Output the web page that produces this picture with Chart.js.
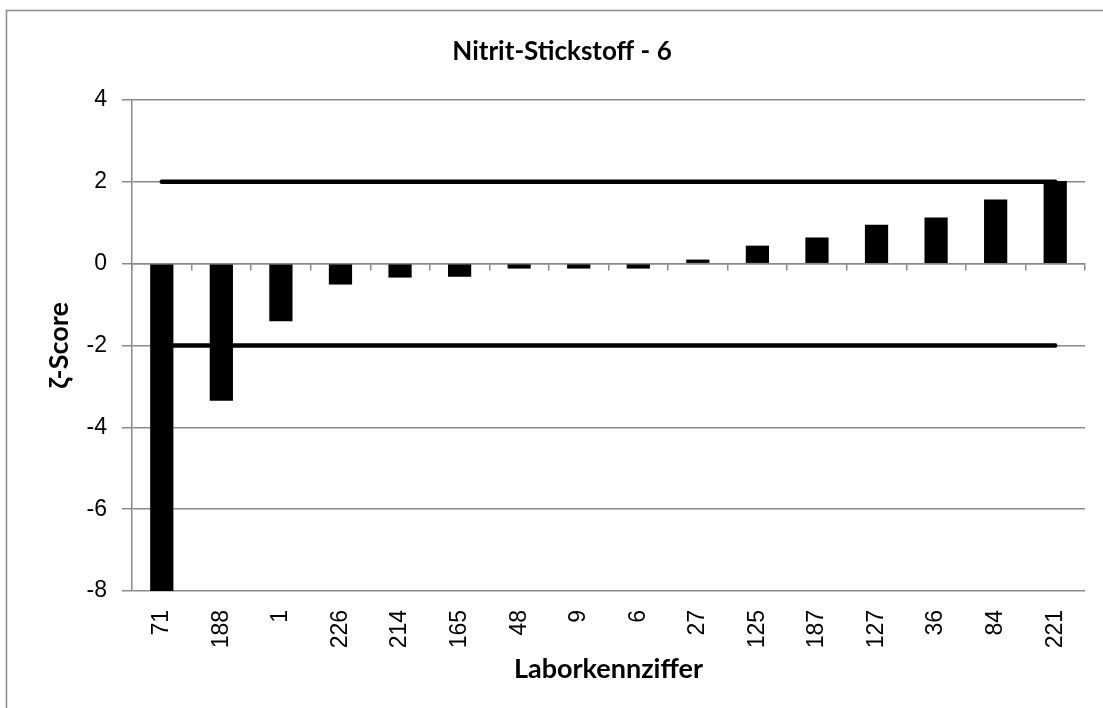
<!DOCTYPE html>
<html>
<head>
<meta charset="utf-8">
<script src="https://cdn.jsdelivr.net/npm/chart.js@4.4.1/dist/chart.umd.min.js"></script>
<style>
  html, body { margin: 0; padding: 0; background: #fff; }
  #wrap { width: 1103px; height: 708px; }
</style>
</head>
<body>
<div id="wrap"><canvas id="zChart"></canvas></div>
<script>
// lab codes, sorted by score
let labCodes = ["71", "188", "1", "226", "214", "165", "48", "9", "6", "27", "125", "187", "127", "36", "84", "221"];
let zetaScores = [-8.0, -3.35, -1.41, -0.51, -0.34, -0.32, -0.12, -0.12, -0.12, 0.10, 0.44, 0.64, 0.95, 1.13, 1.57, 2.02];
let upperLimit = [2, 2, 2, 2, 2, 2, 2, 2, 2, 2, 2, 2, 2, 2, 2, 2];
let lowerLimit = [-2, -2, -2, -2, -2, -2, -2, -2, -2, -2, -2, -2, -2, -2, -2, -2];
let yTicks = [-8, -6, -4, -2, 0, 2, 4];
const chartTitle = "Nitrit-Stickstoff - 6";

const gridGrey = "#8a8a8a";
const tickFont = { family: "'Liberation Sans', Arial, sans-serif", size: 23 };
const titleFont = { family: "Lato, 'Open Sans', sans-serif", size: 27, weight: "bold" };

// grey frame (top and left edges) plus the chart heading
const frame = {
  id: "frame",
  beforeDraw(chart) {
    const c = chart.ctx;
    c.save();
    c.strokeStyle = gridGrey;
    c.lineWidth = 1.5;
    c.beginPath();
    c.moveTo(6.5, 720);
    c.lineTo(6.5, 10.5);
    c.lineTo(1110, 10.5);
    c.stroke();
    c.restore();
  },
  afterDraw(chart) {
    const c = chart.ctx;
    c.save();
    c.fillStyle = "#000";
    c.font = "bold 26px Lato, 'Open Sans', sans-serif";
    c.textAlign = "center";
    c.textBaseline = "middle";
    c.fillText(chartTitle, 562, 52);
    c.restore();
  }
};

let ctx = document.getElementById("zChart");
let zChart = new Chart(ctx, {
  type: "bar",
  data: {
    labels: labCodes,
    datasets: [
      {
        label: "ζ-Score",
        data: zetaScores,
        backgroundColor: "#000",
        xAxisID: "x",
        barPercentage: 0.39,
        categoryPercentage: 1,
        order: 1
      },
      {
        type: "line",
        label: "+2",
        data: upperLimit,
        borderColor: "#000",
        borderWidth: 4.5,
        borderCapStyle: "round",
        pointRadius: 0,
        fill: false,
        xAxisID: "x",
        order: 2
      },
      {
        type: "line",
        label: "-2",
        data: lowerLimit,
        borderColor: "#000",
        borderWidth: 4.5,
        borderCapStyle: "round",
        pointRadius: 0,
        fill: false,
        xAxisID: "x",
        order: 2
      }
    ]
  },
  options: {
    responsive: true,
    maintainAspectRatio: false,
    animation: false,
    layout: { padding: { left: 0, right: 18, top: 100, bottom: 0 } },
    plugins: {
      legend: { display: false },
      tooltip: { enabled: false },
      title: { display: false }
    },
    scales: {
      x: {
        type: "category",
        position: "bottom",
        offset: true,
        grid: { display: false },
        border: { display: false },
        ticks: {
          color: "#000",
          font: tickFont,
          minRotation: 90,
          maxRotation: 90,
          autoSkip: false,
          padding: 11
        },
        title: {
          display: true,
          text: "Laborkennziffer",
          color: "#000",
          font: titleFont,
          padding: { top: 4, bottom: 23 }
        },
        afterFit(scale) { scale.height = 117; }
      },
      // zero line with the small category tick marks
      x2: {
        type: "category",
        labels: labCodes,
        position: { y: 0 },
        offset: true,
        grid: {
          display: true,
          drawOnChartArea: false,
          drawTicks: true,
          tickLength: 6,
          color: gridGrey,
          lineWidth: 1.5
        },
        border: { display: true, color: gridGrey, width: 1.5 },
        ticks: { display: false }
      },
      y: {
        min: -8,
        max: 4,
        afterBuildTicks(scale) { scale.ticks = yTicks.map(v => ({ value: v })); },
        grid: { color: gridGrey, lineWidth: 1.5, tickLength: 10 },
        border: { display: true, color: gridGrey, width: 1.5 },
        ticks: { color: "#000", font: tickFont, padding: 15 },
        title: {
          display: true,
          text: "ζ-Score",
          color: "#000",
          font: titleFont,
          padding: { top: 43, bottom: 0 }
        },
        afterFit(scale) { scale.width = 132; }
      }
    }
  },
  plugins: [frame]
});
</script>
</body>
</html>
